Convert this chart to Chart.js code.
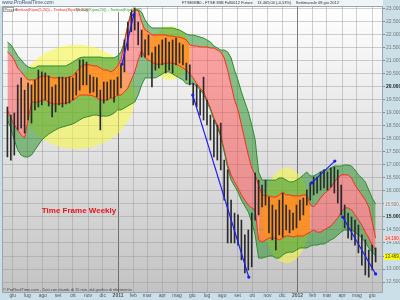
<!DOCTYPE html>
<html><head><meta charset="utf-8">
<script src="https://cdn.jsdelivr.net/npm/chart.js@4/dist/chart.umd.min.js"></script>
<style>html,body{margin:0;padding:0;background:#d2e3eb;overflow:hidden}#wrap{width:400px;height:300px}</style>
</head><body><div id="wrap"><canvas id="c" width="400" height="300"></canvas></div>
<script>
const originDate = '2010-06-01';
const firstWeek = '2010-05-21';
const high = [19230,18920,19000,20080,20350,19880,20150,20080,20270,20650,
20580,20540,20420,20000,20080,20380,20380,20350,20380,20350,
20540,21040,21040,20960,20460,20380,20350,19880,20190,20190,
20270,20270,20380,20850,21810,22500,22960,23040,22500,22190,
21810,22000,21310,21540,21620,21810,21880,21730,21810,21880,
21690,21620,20920,20850,20150,20080,19880,20380,19500,18920,
18730,18540,18610,17190,16810,15650,15150,15080,14880,14310,
14500,15150,16690,16420,16230,16420,15770,15460,15270,15650,
15920,15460,15270,15150,15460,15650,15730,16040,16310,16540,
16540,16730,16810,16730,16880,16920,16810,16230,15460,15150,
15000,14880,14690,14310,14120,13730,13920,13810];
const low = [17310,17190,17380,18350,18420,18230,18730,18610,19120,19230,
19310,19500,19270,18850,19040,19310,19230,19350,19380,19500,
19690,19880,20080,20080,19770,19810,19620,18350,19380,19500,
19580,19420,19690,19960,20580,21420,22120,22190,21620,21150,
21150,21230,20000,20650,20730,20850,20540,20650,20540,20850,
20920,20850,20270,20080,19310,19230,18920,18730,18540,17960,
17310,17190,16810,15650,14000,14000,14000,13920,13350,12850,
12960,13080,14880,15080,15390,15460,14390,14120,13730,14310,
14230,14500,14390,14500,14580,14880,15080,15460,15650,15850,
15920,16040,16120,16040,16150,15920,15540,15080,14580,14190,
14120,13920,13620,13150,12770,12690,12960,13270];
const greenUpper = [21730,21620,21420,21190,21040,20880,20770,20730,20730,20810,
20810,20810,20810,20810,20810,20810,20810,20810,20880,20960,
21040,21120,21150,21150,21150,21150,21150,21150,21120,21120,
21120,21120,21190,21350,21730,22380,22880,22960,22960,22880,
22580,22380,22270,22270,22270,22270,22270,22270,22270,22230,
22190,22120,22040,22000,22000,21960,21920,21880,21810,21730,
21580,21500,21420,21420,21350,21120,20650,20270,19810,19420,
19040,18540,17960,16730,16420,16420,16420,16420,16420,16500,
16500,16420,16350,16350,16420,16500,16620,16730,16580,16580,
16650,16730,16810,16810,16890,16960,16960,16960,17000,17000,
16960,16810,16620,16500,16350,16040,15730,15500];
const redUpper = [21350,21230,21040,20730,20580,20420,20270,20270,20270,20350,
20420,20420,20420,20350,20350,20350,20350,20350,20390,20420,
20580,20730,20850,20850,20850,20810,20810,20730,20650,20650,
20580,20650,20810,21040,21730,22380,22880,22960,22960,22500,
22190,22120,22000,22000,22000,22000,22000,21960,21960,21920,
21920,21880,21810,21620,21580,21580,21540,21540,21540,21500,
21500,21420,21350,21120,20650,20080,19500,19120,18540,17960,
17380,16880,16620,16230,15850,15810,15810,15770,15770,15850,
15960,15850,15850,15810,15810,15810,15850,15850,15460,15390,
15540,15730,15890,16000,16120,16350,16500,16620,16620,16620,
16500,16230,16040,15850,15650,15390,14810,14190];
const redLower = [19120,18810,18540,18350,18150,18040,18730,19420,19420,19420,
19500,19500,19420,19350,19350,19350,19380,19380,19420,19500,
19580,19690,19690,19690,19690,19650,19580,19500,19500,19500,
19580,19580,19690,19690,19810,19960,20270,20580,21040,21420,
21120,21040,20960,20880,20880,20880,20920,20920,20920,20880,
20810,20730,20650,20500,20350,20120,19960,19810,19500,19190,
18810,18540,18150,17580,17000,16620,16350,16120,15850,15650,
15460,15350,15270,14120,14040,14120,14190,14190,14190,14120,
14190,14270,14270,14230,14270,14270,14270,14350,14420,14500,
14420,14420,14500,14580,14650,14810,14960,15190,15350,15350,
15270,15080,14890,14690,14420,14190,13920,13730];
const greenLower = [18730,18420,17960,17580,17380,17310,17310,17380,17580,17770,
17960,18080,18190,18270,18350,18420,18460,18500,18540,18580,
18650,18730,18810,18850,18880,18920,18920,18880,18880,18880,
18920,19000,19120,19120,19190,19270,19350,19420,19690,20080,
20350,20350,20350,20350,20420,20500,20580,20580,20500,20420,
20350,20270,20120,20120,20120,20040,19880,19730,19420,19120,
18730,18460,18080,17500,16880,16420,16190,15960,15650,15420,
15190,14810,14310,13420,13420,13460,13500,13500,13420,13420,
13540,13620,13650,13650,13730,13810,13810,13810,13880,13920,
13920,13960,13960,14040,14120,14190,14310,14420,14500,14500,
14500,14420,14310,14190,14040,13810,13650,13500];
const bandTone = 'ppppppp' + 'oooooooooooooooooooooooooo' + 'pppppp' + 'oooooooooooooo' +
                 'pppppppppppppppppppp' + 'ooooooooooooooo' + 'pppppppppppppppppppp';
const lastClose = 13469;
const yTickValues = [12500,13000,13500,14000,14500,15000,15500,16000,16500,17000,17500,18000,18500,19000,19500,20000,20500,21000,21500,22000,22500,23000];
const monthTickDates = ['2010-06-01','2010-07-01','2010-08-01','2010-09-01','2010-10-01','2010-11-01','2010-12-01',
 '2011-01-01','2011-02-01','2011-03-01','2011-04-01','2011-05-01','2011-06-01','2011-07-01','2011-08-01','2011-09-01',
 '2011-10-01','2011-11-01','2011-12-01','2012-01-01','2012-02-01','2012-03-01','2012-04-01','2012-05-01','2012-06-01'];
const monthTickLabels = ['giu','lug','ago','set','ott','nov','dic','2011','feb','mar','apr','mag','giu','lug','ago','set',
 'ott','nov','dic','2012','feb','mar','apr','mag','giu'];
const trendStart = [['2011-01-09',20880],['2011-06-02',19690],['2012-01-30',16310],['2012-04-02',15000]];
const trendEnd   = [['2011-02-02',22770],['2011-09-24',12690],['2012-03-17',17150],['2012-06-08',12810]];
const ellipseCenter = [['2010-10-09',19620],['2011-04-17',21310],['2011-12-10',15060]];
const ellipseRadiusDays = [118,41,48];
const ellipseRadiusValue = [2000,1040,1830];
const noteText = 'Time Frame Weekly';
const notePos = ['2010-07-30',15230];

const dayOf = s => (Date.parse(s) - Date.parse(originDate)) / 864e5;
const N = high.length;
const xs = high.map((_, i) => dayOf(firstWeek) + 7 * i);
const pts = arr => arr.map((v, i) => ({x: xs[i], y: v}));
const toneMask = (arr, t) => arr.map((v, i) => ({x: xs[i], y: (bandTone[i] === t || bandTone[i - 1] === t) ? v : null}));
const fmt = v => String(Math.round(v)).replace(/\B(?=(\d{3})+(?!\d))/g, '.');
const FONT = 'Liberation Sans, Arial, sans-serif';
const monthDays = monthTickDates.map(dayOf);
const GREEN = 'rgba(30,140,30,0.5)';

const lineBase = {type: 'line', pointRadius: 0, borderWidth: 1, tension: 0, spanGaps: false};
const datasets = [
  {...lineBase, data: pts(greenUpper), borderColor: '#2e8b2e', fill: '+1', backgroundColor: GREEN, order: 16},
  {...lineBase, data: pts(redUpper), borderColor: '#ff2a1a', fill: false, order: 13},
  {...lineBase, data: pts(redLower), borderColor: '#ff2a1a', fill: '+1', backgroundColor: GREEN, order: 16},
  {...lineBase, data: pts(greenLower), borderColor: '#2e8b2e', fill: false, order: 13},
  {...lineBase, data: toneMask(redUpper, 'o'), borderColor: 'rgba(0,0,0,0)', borderWidth: 0, fill: '+1', backgroundColor: 'rgba(255,115,10,0.74)', order: 20},
  {...lineBase, data: toneMask(redLower, 'o'), borderColor: 'rgba(0,0,0,0)', borderWidth: 0, fill: false, order: 20},
  {...lineBase, data: toneMask(redUpper, 'p'), borderColor: 'rgba(0,0,0,0)', borderWidth: 0, fill: '+1', backgroundColor: 'rgba(255,60,60,0.45)', order: 20},
  {...lineBase, data: toneMask(redLower, 'p'), borderColor: 'rgba(0,0,0,0)', borderWidth: 0, fill: false, order: 20},
  {type: 'bar', data: high.map((h, i) => ({x: xs[i], y: [low[i], h]})), backgroundColor: '#2a2a2a', barThickness: 1, grouped: false, order: 5},
];
trendStart.forEach((s, k) => {
  datasets.push({...lineBase, data: [{x: dayOf(s[0]), y: s[1]}, {x: dayOf(trendEnd[k][0]), y: trendEnd[k][1]}],
    borderColor: '#1a1aff', borderWidth: 1.2, pointRadius: 1.6, pointBackgroundColor: '#1a1aff', pointBorderWidth: 0, fill: false, order: 1});
});

const deco = {
  id: 'deco',
  beforeDraw(chart) {
    const {ctx, chartArea: a} = chart;
    ctx.save();
    ctx.fillStyle = '#cbdfe8';
    ctx.fillRect(0, 0, 400, 300);
    ctx.fillStyle = '#eef4f7';
    ctx.fillRect(0, 0, a.right, a.top);
    const g = ctx.createLinearGradient(0, a.top, 0, a.bottom);
    g.addColorStop(0, '#ffffff');
    g.addColorStop(1, '#c3c3c3');
    ctx.fillStyle = g;
    ctx.fillRect(a.left, a.top, a.right - a.left, a.bottom - a.top);
    ctx.restore();
  },
  beforeDatasetsDraw(chart) {
    const {ctx, chartArea: a, scales: {x, y}} = chart;
    ctx.save();
    ctx.beginPath();
    ctx.rect(a.left, a.top, a.right - a.left, a.bottom - a.top);
    ctx.clip();
    ctx.fillStyle = 'rgba(250,250,60,0.55)';
    ellipseCenter.forEach((c, k) => {
      const cx = x.getPixelForValue(dayOf(c[0])), cy = y.getPixelForValue(c[1]);
      const rx = Math.abs(x.getPixelForValue(dayOf(c[0]) + ellipseRadiusDays[k]) - cx);
      const ry = Math.abs(y.getPixelForValue(c[1] + ellipseRadiusValue[k]) - cy);
      ctx.beginPath();
      ctx.ellipse(cx, cy, rx, ry, 0, 0, Math.PI * 2);
      ctx.fill();
    });
    ctx.restore();
  },
  afterDraw(chart) {
    const {ctx, chartArea: a, scales: {x, y}} = chart;
    ctx.save();
    ctx.strokeStyle = '#9aa6ac';
    ctx.lineWidth = 1;
    ctx.strokeRect(a.left + 0.5, a.top + 0.5, a.right - a.left - 1, a.bottom - a.top - 1);
    ctx.textBaseline = 'middle';
    ctx.fillStyle = '#3a5a7a';
    ctx.font = '5px ' + FONT;
    ctx.fillText('www.ProRealTime.com', 2, 3);
    ctx.fillStyle = '#333';
    ctx.font = '4px ' + FONT;
    ctx.fillText('FTSEMIB0 - FTSE MIB Full0612 Future    13.469,00 (-0,53%)    Settimanale 08 giu 2012', 182, 3);
    ctx.fillStyle = 'rgba(255,255,255,0.9)';
    ctx.fillRect(a.left + 1, a.top + 1, 128, 5);
    ctx.strokeStyle = '#aaa';
    ctx.strokeRect(a.left + 1.5, a.top + 1.5, 10, 4);
    ctx.fillStyle = '#555';
    ctx.fillText('Prezzo', a.left + 2.5, a.top + 3.6);
    ctx.fillStyle = '#e02020';
    ctx.fillText('Tenkan(Kijun(5,20)) - Tenkan(Kijun(5,20))', a.left + 13, a.top + 3.6);
    ctx.fillStyle = '#2a9a2a';
    ctx.fillText('Tenkan(Kijun(20)) - Tenkan(Kijun(20))', a.left + 73, a.top + 3.6);
    ctx.fillStyle = '#444';
    ctx.fillText('\u00a9 ProRealTime.com - Dati con ritardo di 15 min. dal grafico di riferimento', a.left + 1, a.bottom - 3);
    ctx.fillStyle = '#e8141b';
    ctx.font = 'bold 8px ' + FONT;
    ctx.fillText(noteText, x.getPixelForValue(dayOf(notePos[0])), y.getPixelForValue(notePos[1]));
    const box = (v, bg, fg, txt) => {
      const py = y.getPixelForValue(v);
      ctx.fillStyle = bg;
      ctx.fillRect(a.right + 1, py - 3, 16, 6);
      ctx.fillStyle = fg;
      ctx.font = '4.5px ' + FONT;
      ctx.fillText(txt, a.right + 2, py + 0.3);
    };
    box(greenUpper[N - 1], '#e4e4e4', '#777', fmt(greenUpper[N - 1]) + ',0');
    box(redUpper[N - 1], '#f6d2d2', '#e03030', fmt(redUpper[N - 1]) + ',0');
    box(lastClose, '#ffff00', '#333', fmt(lastClose) + ',0');
    ctx.restore();
  }
};

new Chart(document.getElementById('c'), {
  data: {datasets},
  options: {
    responsive: false, animation: false, devicePixelRatio: 1,
    layout: {padding: {top: 6, left: 2, right: 0, bottom: 0}, autoPadding: false},
    plugins: {legend: {display: false}, tooltip: {enabled: false}},
    scales: {
      x: {
        type: 'linear', min: -22, max: 753, offset: false,
        afterBuildTicks: s => { s.ticks = monthDays.map(v => ({value: v})); },
        afterFit: s => { s.height = 7; s.paddingLeft = 0; s.paddingRight = 0; },
        ticks: {
          autoSkip: false, maxRotation: 0, minRotation: 0, padding: 0,
          callback: (v, i) => monthTickLabels[i],
          font: c => ({family: FONT, size: 5, weight: (c.index === 7 || c.index === 19) ? 'bold' : 'normal'}),
          color: '#555'
        },
        grid: {
          offset: false,
          color: c => (c.tick && (c.tick.value === monthDays[7] || c.tick.value === monthDays[19])) ? 'rgba(80,80,80,0.75)' : 'rgba(150,150,150,0.45)',
          drawTicks: false
        },
        border: {display: false}
      },
      y: {
        type: 'linear', position: 'right', min: 12077, max: 23115,
        afterBuildTicks: s => { s.ticks = yTickValues.map(v => ({value: v})); },
        afterFit: s => { s.width = 17; s.paddingTop = 0; s.paddingBottom = 0; },
        ticks: {
          padding: 1,
          callback: v => fmt(v),
          font: c => ({family: FONT, size: 5, weight: (c.tick && c.tick.value % 5000 === 0) ? 'bold' : 'normal'}),
          color: c => (c.tick && c.tick.value % 5000 === 0) ? '#222' : '#777'
        },
        grid: {color: 'rgba(150,150,150,0.45)', drawTicks: true, tickLength: 2, tickColor: '#888'},
        border: {display: false}
      }
    }
  },
  plugins: [deco]
});
</script>
</body></html>
